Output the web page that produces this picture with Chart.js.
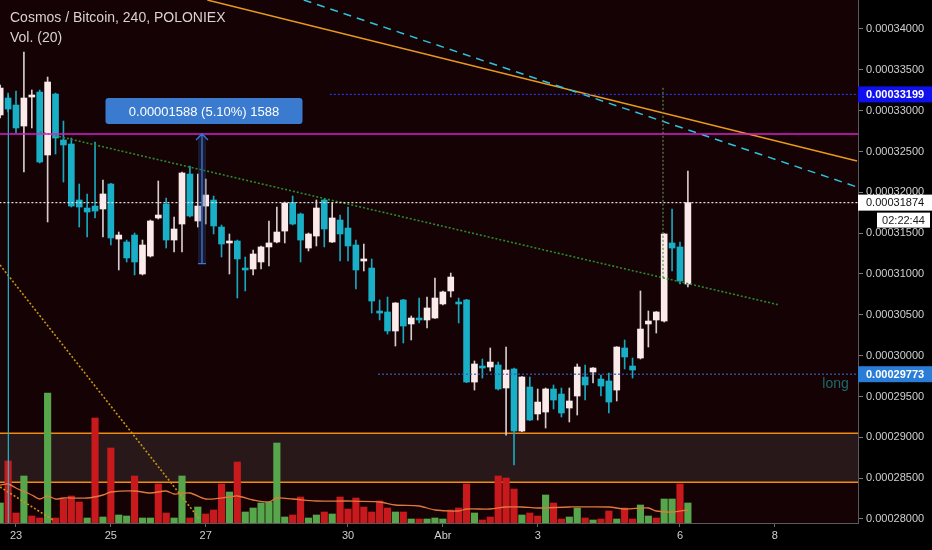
<!DOCTYPE html>
<html>
<head>
<meta charset="utf-8">
<script src="https://cdn.jsdelivr.net/npm/chart.js@4.4.0/dist/chart.umd.min.js"></script>
<style>
  html, body { margin: 0; padding: 0; background: #000; }
  #wrap { width: 932px; height: 550px; }
</style>
</head>
<body>
<div id="wrap"><canvas id="myChart" width="932" height="550"></canvas></div>
<script>
// ATOM/BTC 4h candles, prices in satoshi (1e-8 BTC)
const opens = [32947,33155,33069,32812,33167,33228,32457,33204,32641,32592,
  31906,31808,31832,31796,32102,31428,31392,31477,31000,31220,
  31686,31857,31416,31612,32224,31649,31832,31906,31575,31380,
  31404,31073,31061,31147,31331,31392,31526,31875,31735,31318,
  31465,31906,31392,31661,31563,31355,31159,31073,30547,30535,
  30302,30682,30388,30461,30437,30461,30633,30792,30657,30682,
  29677,29873,29861,29886,29604,29837,29077,29616,29286,29310,
  29592,29530,29359,29506,29739,29800,29714,29690,29579,30094,
  29873,29971,30388,30437,30424,31380,31331,30877];
const highs = [33314,33216,33241,33718,33253,33253,33412,33216,32873,32665,
  32102,31980,32616,32151,32110,31514,31416,31502,31416,31661,
  32139,31930,31698,32249,32322,32224,32163,31955,31600,31490,
  31416,31208,31294,31343,31649,31820,31880,31955,31747,31502,
  31906,31918,31869,31722,31820,31416,31367,31184,30682,30718,
  30650,30690,30486,30706,30718,30951,30792,31012,30706,30690,
  29935,29959,30094,29922,30106,29849,29745,29739,29592,29604,
  29641,29604,29604,29898,29886,29855,29763,29788,30110,30192,
  29971,30792,30547,30540,31495,31796,31392,32261];
const lows = [32910,32984,32726,32249,32788,32359,31637,32469,32126,31820,
  31575,31453,31686,31453,31355,31049,31147,30988,30988,31208,
  31673,31318,31269,31269,31698,31575,31612,31490,31208,31000,
  30706,30792,30988,31061,31098,31380,31380,31600,31147,31282,
  31343,31331,31385,31159,31159,30816,31037,30522,30437,30265,
  30118,30155,30192,30400,30339,30455,30620,30718,30400,29670,
  29579,29726,29812,29579,29028,28661,29070,29205,29212,29114,
  29347,29249,29188,29273,29457,29665,29506,29298,29445,29837,
  29726,29959,30106,30277,30412,31037,30877,30841];
const closes = [33277,33020,32788,33155,33192,32371,33351,32665,32580,31832,
  31820,31759,31771,31980,31441,31477,31196,31147,31355,31649,
  31722,31416,31551,32237,31710,31832,31967,31588,31367,31404,
  31184,31049,31245,31331,31380,31514,31869,31612,31416,31490,
  31808,31551,31686,31490,31343,31049,31184,30669,30522,30302,
  30645,30363,30461,30437,30584,30706,30780,30963,30633,29677,
  29898,29849,29922,29592,29824,29077,29739,29212,29432,29592,
  29457,29298,29445,29861,29641,29849,29628,29432,30106,29984,
  29824,30326,30424,30535,31490,31318,30914,31874];

const volumes = [2.0,6.2,1.0,4.7,0.7,0.5,13.0,0.5,2.4,2.7,
  2.1,0.5,10.5,0.6,7.5,0.8,0.7,4.7,0.5,0.5,
  3.9,1.0,0.5,4.7,0.5,1.6,0.9,1.3,3.9,3.1,
  6.1,1.1,1.5,2.0,2.1,8.0,0.6,0.8,2.6,0.5,
  0.8,1.1,0.9,2.6,1.4,2.5,1.6,1.1,2.2,1.5,
  1.1,1.1,0.4,0.4,0.4,0.5,0.4,1.3,1.5,3.9,
  1.0,0.3,0.6,4.7,4.5,3.4,0.8,1.0,0.7,2.8,
  2.0,0.4,0.6,1.5,0.5,0.3,0.4,1.2,0.4,1.5,
  0.4,1.8,0.7,0.5,2.4,2.4,3.9,2.0];
const volUp = [1,0,0,1,0,0,1,0,0,0, 0,1,0,1,0,1,1,0,1,1,
  0,0,1,1,0,1,0,0,0,1, 0,1,1,1,1,1,1,0,0,1,
  1,0,1,0,0,0,0,0,0,0, 1,0,1,0,1,1,1,0,0,0,
  1,0,0,0,0,0,1,0,0,1, 0,0,1,1,0,1,0,0,1,0,
  0,1,1,0,1,1,0,1];

// Vol (20) moving average
const maIdx = [0,1,2,4,5,6,7,8,11,13,14,17,19,21,22,24,26,29,30,32,
  34,35,37,40,44,48,50,53,55,58,59,62,64,66,68,72,77,79,82,83,85,87];
const maVals = [3.8,3.9,3.5,2.8,2.4,2.7,2.4,2.5,2.5,2.8,3.1,3.2,3.0,3.2,2.9,3.0,2.4,2.6,2.7,2.3,
  2.1,2.5,2.4,2.2,2.2,2.1,1.8,1.7,1.3,1.2,1.4,1.4,1.6,1.6,1.5,1.6,1.6,1.4,1.5,1.2,1.1,1.3];

const dayIdx = [2, 14, 26, 44, 56, 68, 86, 98];
const dayLabels = ['23', '25', '27', '30', 'Abr', '3', '6', '8'];
const priceTicks = [28000,28500,29000,29500,30000,30500,31000,31500,32000,32500,33000,33500,34000];

const lastPrice = 31874;
const alertHigh = 33199;
const alertLow = 29773;
const resistance = 32714;
const zoneTop = 29050, zoneBottom = 28450;

const fmt = v => (v / 1e8).toFixed(8);
const idx = opens.map((_, i) => i);
const up = i => closes[i] >= opens[i];

Chart.defaults.font.family = "'Liberation Sans', Arial, sans-serif";

const drawings = {
  id: 'drawings',
  beforeDraw(chart) {
    const { ctx, chartArea: a } = chart;
    ctx.save();
    ctx.fillStyle = '#000';
    ctx.fillRect(0, 0, chart.width, chart.height);
    ctx.fillStyle = '#140204';
    ctx.fillRect(a.left, a.top, a.right - a.left, a.bottom - a.top);
    ctx.restore();
  },
  beforeDatasetsDraw(chart) {
    const { ctx, chartArea: a, scales } = chart;
    const y1 = scales.y.getPixelForValue(zoneTop), y2 = scales.y.getPixelForValue(zoneBottom);
    ctx.save();
    ctx.fillStyle = '#28181a';
    ctx.fillRect(a.left, y1, a.right - a.left, y2 - y1);
    ctx.strokeStyle = '#f08a10';
    ctx.lineWidth = 1.5;
    ctx.beginPath();
    ctx.moveTo(a.left, y1); ctx.lineTo(a.right, y1);
    ctx.moveTo(a.left, y2); ctx.lineTo(a.right, y2);
    ctx.stroke();
    ctx.restore();
  },
  afterDatasetsDraw(chart) {
    const { ctx, chartArea: a, scales } = chart;
    const px = v => scales.x.getPixelForValue(v);
    const py = v => scales.y.getPixelForValue(v);
    const seg = (x1, p1, x2, p2, color, w, dash) => {
      ctx.beginPath();
      ctx.strokeStyle = color;
      ctx.lineWidth = w;
      ctx.setLineDash(dash || []);
      ctx.moveTo(px(x1), py(p1));
      ctx.lineTo(px(x2), py(p2));
      ctx.stroke();
    };
    ctx.save();
    ctx.beginPath();
    ctx.rect(a.left, a.top, a.right - a.left, a.bottom - a.top);
    ctx.clip();

    // trend lines
    seg(26.2, 34355, 108.4, 32384, '#e89a1c', 1.5);
    seg(38.4, 34355, 108.4, 32065, '#2ec4d8', 1.5, [8, 6]);
    seg(5.0, 32739, 98.6, 30620, '#2c8a2c', 1.6, [2, 2]);
    seg(-0.02, 31110, 25.3, 27988, '#c89610', 1.6, [2, 2]);
    seg(-0.02, 28392, 6.7, 27988, '#c89610', 1.6, [2, 2]);
    seg(1.03, 33190, 1.03, 27951, '#22b8d0', 1.2);
    seg(83.85, 33280, 83.85, 30930, '#5a8a4a', 1.2, [2, 2]);

    // horizontals
    seg(-0.1, resistance, 110, resistance, '#d81fcf', 1.5);
    seg(41.7, alertHigh, 110, alertHigh, '#2c3cd8', 1.2, [2, 2]);
    seg(47.8, alertLow, 110, alertLow, '#3a5cb8', 1.2, [2, 2]);
    seg(-0.1, lastPrice, 110, lastPrice, '#e8e8e8', 1.2, [2, 2]);

    // measure tool
    const mx = px(25.53), mt = py(resistance), mb = py(resistance - 1588);
    ctx.setLineDash([]);
    ctx.fillStyle = 'rgba(40,70,130,0.35)';
    ctx.fillRect(mx - 4, mt, 8, mb - mt);
    ctx.strokeStyle = '#3a78d8';
    ctx.lineWidth = 1.3;
    ctx.beginPath();
    ctx.moveTo(mx, mt); ctx.lineTo(mx, mb);
    ctx.moveTo(mx - 6, mt + 6); ctx.lineTo(mx, mt); ctx.lineTo(mx + 6, mt + 6);
    ctx.moveTo(mx - 4, mb); ctx.lineTo(mx + 4, mb);
    ctx.stroke();
    const bw = 197, bh = 26, bx = mx + 2 - bw / 2, by = mt - 36;
    ctx.fillStyle = '#3a7bd0';
    ctx.beginPath();
    ctx.roundRect(bx, by, bw, bh, 3);
    ctx.fill();
    ctx.fillStyle = '#fff';
    ctx.font = "13px 'Liberation Sans', Arial";
    ctx.textAlign = 'center';
    ctx.textBaseline = 'middle';
    ctx.fillText('0.00001588 (5.10%) 1588', bx + bw / 2, by + bh / 2 + 1);

    ctx.fillStyle = '#1e6a68';
    ctx.font = "14px 'Liberation Sans', Arial";
    ctx.textAlign = 'left';
    ctx.textBaseline = 'alphabetic';
    ctx.fillText('long', px(104.0), py(alertLow) + 14);
    ctx.restore();
  },
  afterDraw(chart) {
    const { ctx, chartArea: a, scales } = chart;
    const py = v => scales.y.getPixelForValue(v);
    const tag = (p, bg, fg, bold) => {
      const y = py(p);
      ctx.fillStyle = bg;
      ctx.fillRect(a.right, y - 8, chart.width - a.right, 16);
      ctx.fillStyle = fg;
      ctx.font = (bold ? 'bold ' : '') + "11px 'Liberation Sans', Arial";
      ctx.textAlign = 'left';
      ctx.textBaseline = 'middle';
      ctx.fillText(fmt(p), a.right + 8, y + 0.5);
    };
    ctx.save();
    tag(alertHigh, '#1010ee', '#fff', true);
    tag(alertLow, '#2a7dd6', '#fff', true);
    tag(lastPrice, '#ffffff', '#111', false);
    const ty = py(lastPrice) + 10;
    ctx.fillStyle = '#fff';
    ctx.fillRect(877, ty, 53, 15);
    ctx.fillStyle = '#222';
    ctx.textAlign = 'center';
    ctx.font = "11px 'Liberation Sans', Arial";
    ctx.fillText('02:22:44', 903.5, ty + 8);

    ctx.fillStyle = '#d8d2d2';
    ctx.textAlign = 'left';
    ctx.textBaseline = 'alphabetic';
    ctx.font = "14px 'Liberation Sans', Arial";
    ctx.fillText('Cosmos / Bitcoin, 240, POLONIEX', 10, 22);
    ctx.fillText('Vol. (20)', 10, 42);
    ctx.restore();
  }
};

const ctx = document.getElementById('myChart').getContext('2d');
const myChart = new Chart(ctx, {
  type: 'bar',
  data: {
    datasets: [{
      type: 'bar',
      data: idx.map(i => ({ x: i, y: volumes[i] })),
      yAxisID: 'y2',
      backgroundColor: c => volUp[c.dataIndex] ? '#58a64c' : '#c8191d',
      barThickness: 6.5,
      grouped: false,
      order: 4
    }, {
      type: 'line',
      data: maIdx.map((x, k) => ({ x: x, y: maVals[k] })),
      yAxisID: 'y2',
      borderColor: '#e0783e',
      borderWidth: 1.3,
      pointRadius: 0,
      tension: 0.3,
      order: 3
    }, {
      type: 'bar',
      data: idx.map(i => ({ x: i, y: [lows[i], highs[i]] })),
      backgroundColor: c => up(c.dataIndex) ? '#d6cccc' : '#1aa6bd',
      barThickness: 1,
      grouped: false,
      order: 2
    }, {
      type: 'bar',
      data: idx.map(i => ({ x: i, y: [opens[i], closes[i]] })),
      backgroundColor: c => up(c.dataIndex) ? '#fbeaea' : '#18afc7',
      barThickness: 6,
      minBarLength: 1.5,
      grouped: false,
      order: 1
    }]
  },
  options: {
    responsive: false,
    animation: false,
    events: [],
    devicePixelRatio: 1,
    layout: { padding: 0 },
    plugins: { legend: { display: false }, tooltip: { enabled: false } },
    scales: {
      x: {
        type: 'linear', position: 'bottom', min: -0.024, max: 108.52, offset: false,
        afterBuildTicks: s => { s.ticks = dayIdx.map(v => ({ value: v })); },
        afterFit: s => { s.height = 27; s.paddingLeft = 0; s.paddingRight = 0; },
        ticks: {
          autoSkip: false, maxRotation: 0, color: '#cfcfcf', padding: 2,
          font: { size: 11 },
          callback: v => { const k = dayIdx.indexOf(v); return k >= 0 ? dayLabels[k] : ''; }
        },
        grid: { drawOnChartArea: false, drawTicks: true, tickLength: 4, color: '#6a6a6a', offset: false },
        border: { display: true, color: '#5a5a5a' }
      },
      y: {
        type: 'linear', position: 'right', min: 27951, max: 34355.1,
        afterBuildTicks: s => { s.ticks = priceTicks.map(v => ({ value: v })); },
        afterFit: s => { s.width = 74; s.paddingTop = 0; s.paddingBottom = 0; },
        ticks: { color: '#cfcfcf', padding: 3, font: { size: 11 }, callback: v => fmt(v) },
        grid: { drawOnChartArea: false, drawTicks: true, tickLength: 5, color: '#7a7a7a' },
        border: { display: true, color: '#5a5a5a' }
      },
      y2: { display: false, min: 0, max: 52.3 }
    }
  },
  plugins: [drawings]
});
</script>
</body>
</html>
